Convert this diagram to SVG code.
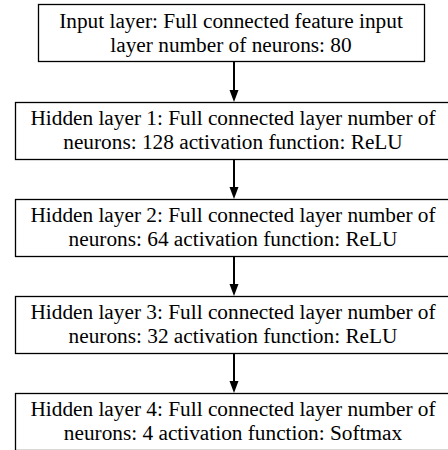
<svg xmlns="http://www.w3.org/2000/svg" width="448" height="450" viewBox="0 0 448 450">
<defs>
<style>
.box{fill:#fff;stroke:#000;stroke-width:1.3}
.t{font-family:"Liberation Serif","Times New Roman",serif;font-size:21.3px;fill:#000;text-anchor:middle}
.c{stroke:#000;stroke-width:2;fill:none}
</style>
</defs>
<rect width="448" height="450" fill="#fff"/>
<g id="connectors">
<line class="c" x1="234" y1="62" x2="234" y2="92"/>
<line class="c" x1="234" y1="159" x2="234" y2="189"/>
<line class="c" x1="234" y1="256" x2="234" y2="286"/>
<line class="c" x1="234" y1="353" x2="234" y2="383"/>
<path d="M229.5,90 L238.5,90 L234,102 Z"/>
<path d="M229.5,187 L238.5,187 L234,199 Z"/>
<path d="M229.5,284 L238.5,284 L234,296 Z"/>
<path d="M229.5,381 L238.5,381 L234,393 Z"/>
</g>
<g id="node-input">
<rect class="box" x="38.5" y="4.5" width="386" height="57"/>
<text class="t" x="231" y="28">Input layer: Full connected feature input</text>
<text class="t" x="231" y="52">layer number of neurons: 80</text>
</g>
<g id="node-hidden1">
<rect class="box" x="15.5" y="102.5" width="438" height="57"/>
<text class="t" x="233" y="125">Hidden layer 1: Full connected layer number of</text>
<text class="t" x="233" y="149">neurons: 128 activation function: ReLU</text>
</g>
<g id="node-hidden2">
<rect class="box" x="15.5" y="199.5" width="438" height="57"/>
<text class="t" x="233" y="222">Hidden layer 2: Full connected layer number of</text>
<text class="t" x="233" y="246">neurons: 64 activation function: ReLU</text>
</g>
<g id="node-hidden3">
<rect class="box" x="15.5" y="296.5" width="438" height="57"/>
<text class="t" x="233" y="319">Hidden layer 3: Full connected layer number of</text>
<text class="t" x="233" y="343">neurons: 32 activation function: ReLU</text>
</g>
<g id="node-hidden4">
<rect class="box" x="15.5" y="393.5" width="438" height="57"/>
<text class="t" x="233" y="416">Hidden layer 4: Full connected layer number of</text>
<text class="t" x="233" y="440">neurons: 4 activation function: Softmax</text>
</g>
</svg>
